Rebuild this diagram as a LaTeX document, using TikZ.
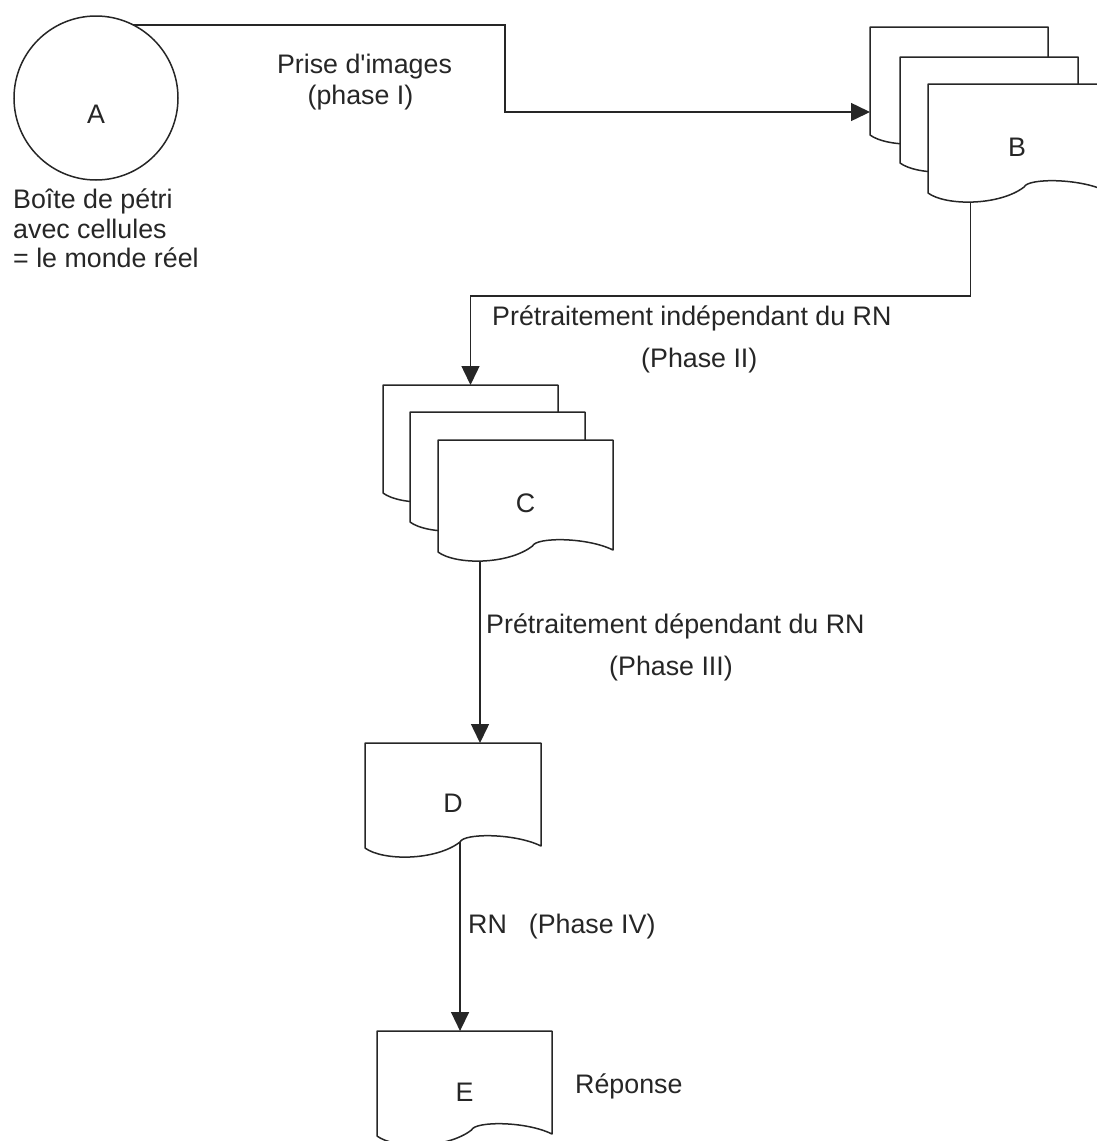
\documentclass[tikz,border=0pt]{standalone}
\usepackage{fontspec}
\setmainfont{Liberation Sans}
\usetikzlibrary{arrows.meta,calc}
\tikzset{
  docline/.style={draw=black!85, line width=1.5pt, fill=white, line join=round},
  sheet/.style={draw=none, inner sep=0pt, outer sep=0pt, anchor=north west},
  txt/.style={font=\fontsize{26.8}{31}\selectfont, inner sep=0pt, text=black!85},
  conn/.style={draw=black!85, line width=1.5pt},
  arr/.style={conn, -{Triangle[length=19pt,width=18pt]}},
}
\newcommand\docshape[1]{%
  \draw[docline] (#1.south west) -- (#1.north west) -- (#1.north east) -- ($(#1.south east)+(0,-2)$)
    .. controls ($(#1.south west)!0.85!(#1.south east)+(0,-15)$) and ($(#1.south west)!0.56!(#1.south east)+(0,-15)$) .. ($(#1.south west)!0.54!(#1.south east)+(0,-6)$)
    .. controls ($(#1.south west)!0.4!(#1.south east)+(0,13)$) and ($(#1.south west)!0.1!(#1.south east)+(0,13)$) .. (#1.south west) -- cycle;
  \coordinate (#1-dip) at ($(#1.south west)!0.24!(#1.south east)+(0,9)$);
  \coordinate (#1-cusp) at ($(#1.south west)!0.54!(#1.south east)+(0,-6)$);
}
\begin{document}
\begin{tikzpicture}[x=1pt,y=-1pt]
\useasboundingbox (0,0) rectangle (1097,1141);
\clip (0,0) rectangle (1097,1141);

% A
\node[circle, draw=black!85, line width=1.5pt, minimum size=164pt, inner sep=0pt, outer sep=0pt] (A) at (96,98) {};
\node[txt] (Alab) at ($(A.center)+(0,16)$) {A};
\node[txt, anchor=base west] (t1) at (13,208) {Boîte de pétri};
\node[txt, anchor=base west] (t2) at (13,238) {avec cellules};
\node[txt, anchor=base west] (t3) at (13,267) {= le monde réel};

% B stack
\node[sheet, minimum width=178pt, minimum height=108pt] (Bback) at (870,27) {};
\docshape{Bback}
\node[sheet, minimum width=178pt, minimum height=106pt] (Bmid) at (900,57) {};
\docshape{Bmid}
\node[sheet, minimum width=178pt, minimum height=109pt] (B) at (928,84) {};
\docshape{B}
\node[txt] (Blab) at ($(B.center)+(0,9)$) {B};

% C stack
\node[sheet, minimum width=175pt, minimum height=108pt] (Cback) at (383,385) {};
\docshape{Cback}
\node[sheet, minimum width=175pt, minimum height=110pt] (Cmid) at (410,412) {};
\docshape{Cmid}
\node[sheet, minimum width=175pt, minimum height=112pt] (C) at (438,440) {};
\docshape{C}
\node[txt] (Clab) at ($(C.center)+(0,7)$) {C};

% D
\node[sheet, minimum width=176pt, minimum height=105pt] (D) at (365,743) {};
\docshape{D}
\node[txt] (Dlab) at ($(D.center)+(0,8)$) {D};

% E
\node[sheet, minimum width=175pt, minimum height=105pt] (E) at (377,1031) {};
\docshape{E}
\node[txt] (Elab) at ($(E.center)+(0,9)$) {E};

% labels
\node[txt, anchor=base] (p1) at (364.5,73) {Prise d\textquotesingle images};
\node[txt, anchor=base] (p1b) at (360.5,104) {(phase I)};
\node[txt, anchor=base west] (p2) at (492,325) {Prétraitement indépendant du RN};
\node[txt, anchor=base west] (p2b) at (641,367) {(Phase II)};
\node[txt, anchor=base west] (p3) at (486,633) {Prétraitement dépendant du RN};
\node[txt, anchor=base west] (p3b) at (609,675) {(Phase III)};
\node[txt, anchor=base west] (p4) at (468,933) {RN\hspace{22pt}(Phase IV)};
\node[txt, anchor=base west] (rep) at (575,1093) {Réponse};

% connectors
\coordinate (Bin) at ($(Bback.north west)+(0,85)$);
\draw[arr] (A.63) -- ++(372,0) |- (Bin);
\draw[arr] (B-dip) -- ++(0,94) -| (Cback.north);
\draw[arr] (C-dip) -- (C-dip |- D.north);
\draw[arr] (D-cusp) -- (D-cusp |- E.north);
\end{tikzpicture}
\end{document}
